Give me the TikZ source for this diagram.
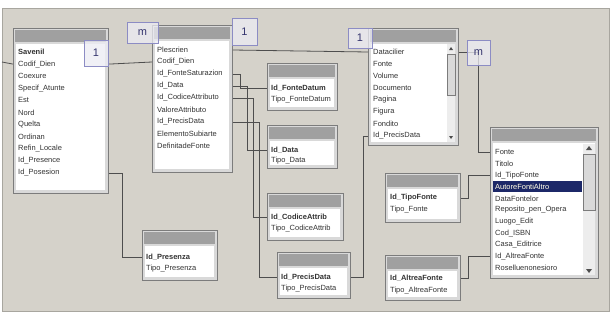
\documentclass[tikz,border=0pt]{standalone}
\usepackage{fontspec}
\newfontfamily\uifont{Liberation Sans}
\usetikzlibrary{calc}

\definecolor{canvas}{HTML}{D5D2CA}
\definecolor{canvasedge}{HTML}{A8A69F}
\definecolor{framefill}{HTML}{D9D9D9}
\definecolor{framegray}{HTML}{7C7C7C}
\definecolor{hdrgray}{HTML}{A0A0A0}
\definecolor{fldtext}{HTML}{333333}
\definecolor{relgray}{HTML}{4E4E4E}
\definecolor{cardblue}{HTML}{8C8CC4}
\definecolor{cardfill}{HTML}{ECECF4}
\definecolor{cardtext}{HTML}{34346E}
\definecolor{selblue}{HTML}{1C2868}
\definecolor{sbtrack}{HTML}{EDEDED}

% table frame: name, x1, y1, x2, y2
\newcommand{\dbtab}[5]{%
  \pgfmathsetmacro\tabw{#4-#2}%
  \pgfmathsetmacro\tabh{#5-#3}%
  \node[tframe, anchor=north west, minimum width=\tabw pt, minimum height=\tabh pt] (#1) at (#2,#3) {};
  \fill[hdrgray] ({#2+2},{#3+2}) rectangle ({#4-2},{#3+14});
  \fill[white] ({#2+3},{#3+16}) rectangle ({#4-3},{#5-3});
}

\begin{document}
\begin{tikzpicture}[x=1pt,y=-1pt,
  tframe/.style={draw=framegray, fill=framefill, line width=0.8, inner sep=0},
  fld/.style={anchor=west, inner sep=0, font=\uifont\fontsize{7.5}{8}\selectfont, text=fldtext},
  keyfld/.style={fld, font=\uifont\bfseries\fontsize{7.5}{8}\selectfont},
  rel/.style={draw=relgray, line width=0.8},
  card/.style={draw=cardblue, fill=cardfill, fill opacity=0.75, text opacity=1,
    line width=0.7, inner sep=0, font=\uifont\fontsize{11}{12}\selectfont, text=cardtext},
  thumb/.style={draw=framegray, fill=framefill, line width=0.5},
  sbarrow/.style={fill=relgray}]

\useasboundingbox (0,0) rectangle (611,327);
\fill[white] (0,0) rectangle (611,327);
\fill[canvas, draw=canvasedge] (2,8) rectangle (609,311);

% tabella sinistra
\dbtab{A}{13}{28}{108}{193}
\node[keyfld] (A1) at (18,52) {Savenil};
\foreach \t [count=\i from 2] in {Codif\_Dien, Coexure, Specif\_Atunte, Est, Nord,
    Quelta, Ordinan, Refin\_Locale, Id\_Presence, Id\_Posesion}
  \node[fld] (A\i) at (18,{52+12.1*(\i-1)}) {\t};

% tabella centrale
\dbtab{B}{152}{25}{232}{172}
\foreach \t [count=\i] in {Plescrien, Codif\_Dien, Id\_FonteSaturazion, Id\_Data,
    Id\_CodiceAttributo, ValoreAttributo, Id\_PrecisData, ElementoSubiarte, DefinitadeFonte}
  \node[fld] (B\i) at (157,{50+12*(\i-1)}) {\t};

% tabelle piccole
\dbtab{T1}{267}{63}{337}{110}
\node[keyfld] (T1a) at (271,88) {Id\_FonteDatum};
\node[fld] (T1b) at (271,100) {Tipo\_FonteDatum};
\dbtab{T2}{267}{125}{337}{168}
\node[keyfld] (T2a) at (271,150) {Id\_Data};
\node[fld] (T2b) at (271,161) {Tipo\_Data};
\dbtab{T3}{267}{193}{343}{240}
\node[keyfld] (T3a) at (271,217) {Id\_CodiceAttrib};
\node[fld] (T3b) at (271,229) {Tipo\_CodiceAttrib};
\dbtab{T4}{277}{252}{350}{298}
\node[keyfld] (T4a) at (281,277) {Id\_PrecisData};
\node[fld] (T4b) at (281,289) {Tipo\_PrecisData};
\dbtab{P}{142}{230}{217}{280}
\node[keyfld] (Pa) at (146,257) {Id\_Presenza};
\node[fld] (Pb) at (146,269) {Tipo\_Presenza};

% fonte
\dbtab{C}{368}{28}{458}{145}
\foreach \t [count=\i] in {Datacilier, Fonte, Volume, Documento, Pagina, Figura,
    Fondito, Id\_PrecisData}
  \node[fld] (C\i) at (373,{52+12*(\i-1)}) {\t};
\fill[sbtrack] (447,44) rectangle (455,142);
\draw[thumb] (447,54) rectangle (455,95);
\fill[sbarrow] (449,50) -- (453,50) -- (451,47) -- cycle;
\fill[sbarrow] (449,136) -- (453,136) -- (451,139) -- cycle;

% opera
\dbtab{D}{490}{127}{598}{278}
\fill[selblue] (493,181) rectangle (582,192);
\foreach \t [count=\i] in {Fonte, Titolo, Id\_TipoFonte, AutoreFontiAltro, DataFontelor,
    Reposito\_pen\_Opera, Luogo\_Edit, Cod\_ISBN, Casa\_Editrice, Id\_AltreaFonte,
    Roselluenonesioro}
  \node[fld] (D\i) at (495,{152+11.6*(\i-1)}) {\t};
\node[fld, text=white] at (D4.west) {AutoreFontiAltro};
\fill[sbtrack] (583,144) rectangle (595,275);
\draw[thumb] (583,154) rectangle (595,210);
\fill[sbarrow] (586,150) -- (592,150) -- (589,146) -- cycle;
\fill[sbarrow] (586,269) -- (592,269) -- (589,273) -- cycle;

\dbtab{E}{385}{173}{460}{222}
\node[keyfld] (Ea) at (390,198) {Id\_TipoFonte};
\node[fld] (Eb) at (390,210) {Tipo\_Fonte};
\dbtab{F}{385}{255}{460}{300}
\node[keyfld] (Fa) at (390,278) {Id\_AltreaFonte};
\node[fld] (Fb) at (390,291) {Tipo\_AltreaFonte};

% relazioni
\coordinate (lft) at (2,62);
\coordinate (cm) at (478.5,52.5);
\draw[rel] (lft) -- (A.west |- A2);
\draw[rel] (A.east |- A2) -- (B.west |- B2);
\draw[rel] (A.east |- A11) -- ++(14,0) |- (P.west |- Pa);
\draw[rel] (B.east |- B1) -- (C.west |- C1);
\draw[rel] (B.east |- B3) -- ++(8,0) |- (T1.west |- T1a);
\draw[rel] (B.east |- B4) -- ++(15,0) |- (T2.west |- T2a);
\draw[rel] (B.east |- B5) -- ++(21,0) |- (T3.west |- T3a);
\draw[rel] (B.east |- B7) -- ++(27,0) |- (T4.west |- T4a);
\draw[rel] (C.west |- C8) -- ++(-5,0) |- (T4.east |- T4a);
\draw[rel] (C.east |- C1) -| (cm) |- (D.west |- D1);
\draw[rel] (E.east |- Ea) -- ++(8,0) |- (D.west |- D3);
\draw[rel] (F.east |- Fa) -- ++(8,0) |- (D.west |- D10);

% cardinalita
\node[card, minimum width=24, minimum height=26] (oneA) at (96,53) {1};
\node[card, minimum width=31, minimum height=21] (mB) at (142.5,32.5) {m};
\node[card, minimum width=25, minimum height=27] (oneB) at (244.5,31.5) {1};
\node[card, minimum width=24, minimum height=20] (oneC) at (360,38) {1};
\node[card, minimum width=23, minimum height=25] (mC) at (cm) {m};
\end{tikzpicture}
\end{document}
